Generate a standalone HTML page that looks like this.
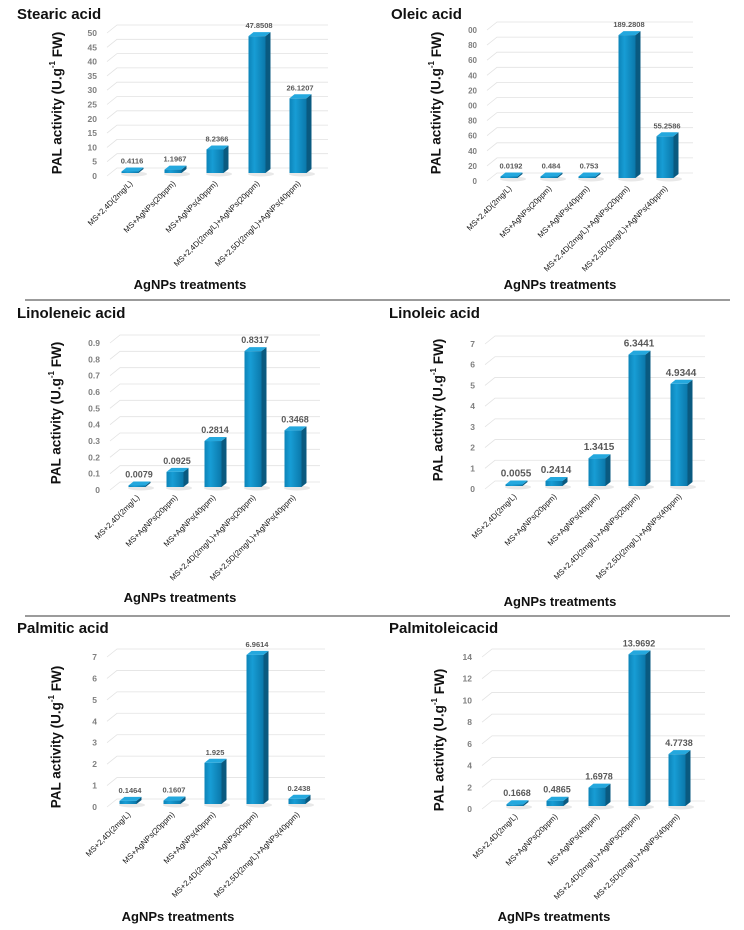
<!DOCTYPE html>
<html><head><meta charset="utf-8"><style>
html,body{margin:0;padding:0;background:#fff}
svg{display:block}
text{font-family:"Liberation Sans",sans-serif}
</style></head><body>
<svg id="fig" width="744" height="930" viewBox="0 0 744 930" xmlns="http://www.w3.org/2000/svg">
<defs>
<linearGradient id="gf" x1="0" y1="0" x2="1" y2="0">
<stop offset="0" stop-color="#0d84b8"/><stop offset="0.35" stop-color="#179dd5"/><stop offset="1" stop-color="#0b78aa"/>
</linearGradient>
</defs>
<line x1="25" y1="300" x2="730" y2="300" stroke="#7a7a7a" stroke-width="1.5"/>
<line x1="25" y1="616" x2="730" y2="616" stroke="#7a7a7a" stroke-width="1.5"/>
</svg>
<script>
const categories = ["MS+2,4D(2mg/L)","MS+AgNPs(20ppm)","MS+AgNPs(40ppm)","MS+2,4D(2mg/L)+AgNPs(20ppm)","MS+2,5D(2mg/L)+AgNPs(40ppm)"];
const stearicValues = [0.4116,1.1967,8.2366,47.8508,26.1207];
const stearicLabels = ["0.4116","1.1967","8.2366","47.8508","26.1207"];
const stearicTicks = ["0","5","10","15","20","25","30","35","40","45","50"];
const oleicValues = [0.0192,0.484,0.753,189.2808,55.2586];
const oleicLabels = ["0.0192","0.484","0.753","189.2808","55.2586"];
const oleicTicks = ["0","20","40","60","80","00","20","40","60","80","00"];
const linoleneicValues = [0.0079,0.0925,0.2814,0.8317,0.3468];
const linoleneicLabels = ["0.0079","0.0925","0.2814","0.8317","0.3468"];
const linoleneicTicks = ["0","0.1","0.2","0.3","0.4","0.5","0.6","0.7","0.8","0.9"];
const linoleicValues = [0.0055,0.2414,1.3415,6.3441,4.9344];
const linoleicLabels = ["0.0055","0.2414","1.3415","6.3441","4.9344"];
const linoleicTicks = ["0","1","2","3","4","5","6","7"];
const palmiticValues = [0.1464,0.1607,1.925,6.9614,0.2438];
const palmiticLabels = ["0.1464","0.1607","1.925","6.9614","0.2438"];
const palmiticTicks = ["0","1","2","3","4","5","6","7"];
const palmitoleicValues = [0.1668,0.4865,1.6978,13.9692,4.7738];
const palmitoleicLabels = ["0.1668","0.4865","1.6978","13.9692","4.7738"];
const palmitoleicTicks = ["0","2","4","6","8","10","12","14"];

const NS="http://www.w3.org/2000/svg";
const svg=document.getElementById('fig');
function mk(tag,attrs,parent){const e=document.createElementNS(NS,tag);for(const k in attrs)e.setAttribute(k,attrs[k]);(parent||svg).appendChild(e);return e;}

const panels=[
 {name:'stearic',title:'Stearic acid',tx:17,ty:19,vals:stearicValues,labs:stearicLabels,ticks:stearicTicks,max:50,tickX:97,y0:176,yTop:33,gx1:328,cx:[130,173,215,257,298],ytx:58,yty:103,xtx:190,xty:289,vfs:7.5,tfs:8.5},
 {name:'oleic',title:'Oleic acid',tx:391,ty:19,vals:oleicValues,labs:oleicLabels,ticks:oleicTicks,max:200,tickX:477,y0:181,yTop:30,gx1:693,cx:[509,549,587,627,665],ytx:437,yty:103,xtx:560,xty:289,vfs:7.5,tfs:8},
 {name:'linoleneic',title:'Linoleneic acid',tx:17,ty:318,vals:linoleneicValues,labs:linoleneicLabels,ticks:linoleneicTicks,max:0.9,tickX:100,y0:490,yTop:343,gx1:320,cx:[137,175,213,253,293],ytx:57,yty:413,xtx:180,xty:602,vfs:9,tfs:8.5},
 {name:'linoleic',title:'Linoleic acid',tx:389,ty:318,vals:linoleicValues,labs:linoleicLabels,ticks:linoleicTicks,max:7,tickX:475,y0:489,yTop:344,gx1:705,cx:[514,554,597,637,679],ytx:439,yty:410,xtx:560,xty:606,vfs:10,tfs:8.5},
 {name:'palmitic',title:'Palmitic acid',tx:17,ty:633,vals:palmiticValues,labs:palmiticLabels,ticks:palmiticTicks,max:7,tickX:97,y0:807,yTop:657,gx1:325,cx:[128,172,213,255,297],ytx:57,yty:737,xtx:178,xty:921,vfs:7.5,tfs:8.5},
 {name:'palmitoleic',title:'Palmitoleicacid',tx:389,ty:633,vals:palmitoleicValues,labs:palmitoleicLabels,ticks:palmitoleicTicks,max:14,tickX:472,y0:809,yTop:657,gx1:705,cx:[515,555,597,637,677],ytx:440,yty:740,xtx:554,xty:921,vfs:9,tfs:8.5}
];

panels.forEach(p=>{
 const g=mk('g',{});
 
 
 const yS=v=>p.y0-(v/p.max)*(p.y0-p.yTop);
 const t=mk('text',{x:p.tx,y:p.ty,'font-size':15,'font-weight':'bold',fill:'#111'},g);
 t.textContent=p.title;
 
 
 const n=p.ticks.length;
 for(let i=0;i<n;i++){
  const v=p.max*i/(n-1), y=yS(v);
  const gl=mk('path',{d:`M${p.tickX+10},${y} L${p.tickX+20},${y-8} L${p.gx1},${y-8}`,fill:'none',stroke:'#e2e2e2','stroke-width':0.8},g);
  
  
  const tl=mk('text',{x:p.tickX,y:y+3,'text-anchor':'end','font-size':p.tfs,'font-weight':'bold',fill:'#7f7f7f'},g);
  tl.textContent=p.ticks[i];
  
  
 }
 const base=p.y0-3, w=17, dx=5, dy=4;
 p.vals.forEach((v,i)=>{
  const cx=p.cx[i], x=cx-w/2, yt=Math.min(base-1.5, yS(v)-3);
  const bg=mk('g',{},g);
  
  
  mk('ellipse',{cx:cx+4,cy:base+1,rx:13,ry:2.5,fill:'#e8e8e8'},bg);
  mk('rect',{x:x,y:yt,width:w,height:base-yt,fill:'url(#gf)'},bg);
  mk('path',{d:`M${x+w},${yt} L${x+w+dx},${yt-dy} L${x+w+dx},${base-dy} L${x+w},${base} Z`,fill:'#0a5a80'},bg);
  mk('path',{d:`M${x},${yt} L${x+dx},${yt-dy} L${x+w+dx},${yt-dy} L${x+w},${yt} Z`,fill:'#24a8de'},bg);
  const vl=mk('text',{x:cx+2,y:yt-dy-4,'text-anchor':'middle','font-size':p.vfs,'font-weight':'bold',fill:'#595959'},g);
  vl.textContent=p.labs[i];
  
  
  const cl=mk('text',{x:cx+3,y:base+11,'text-anchor':'end','font-size':7.8,fill:'#111',transform:`rotate(-45 ${cx+3} ${base+11})`},g);
  cl.textContent=categories[i];
  
  
 });
 const yt2=mk('text',{x:p.ytx,y:p.yty,'text-anchor':'middle','font-size':13.5,'font-weight':'bold',fill:'#111',transform:`rotate(-90 ${p.ytx} ${p.yty})`,'dominant-baseline':'middle'},g);
 yt2.innerHTML='PAL activity (U.g<tspan font-size="8" dy="-5">-1</tspan><tspan dy="5"> FW)</tspan>';
 
 
 const xt=mk('text',{x:p.xtx,y:p.xty,'text-anchor':'middle','font-size':13,'font-weight':'bold',fill:'#111'},g);
 xt.textContent='AgNPs treatments';
 
 
});
</script>
</body></html>
